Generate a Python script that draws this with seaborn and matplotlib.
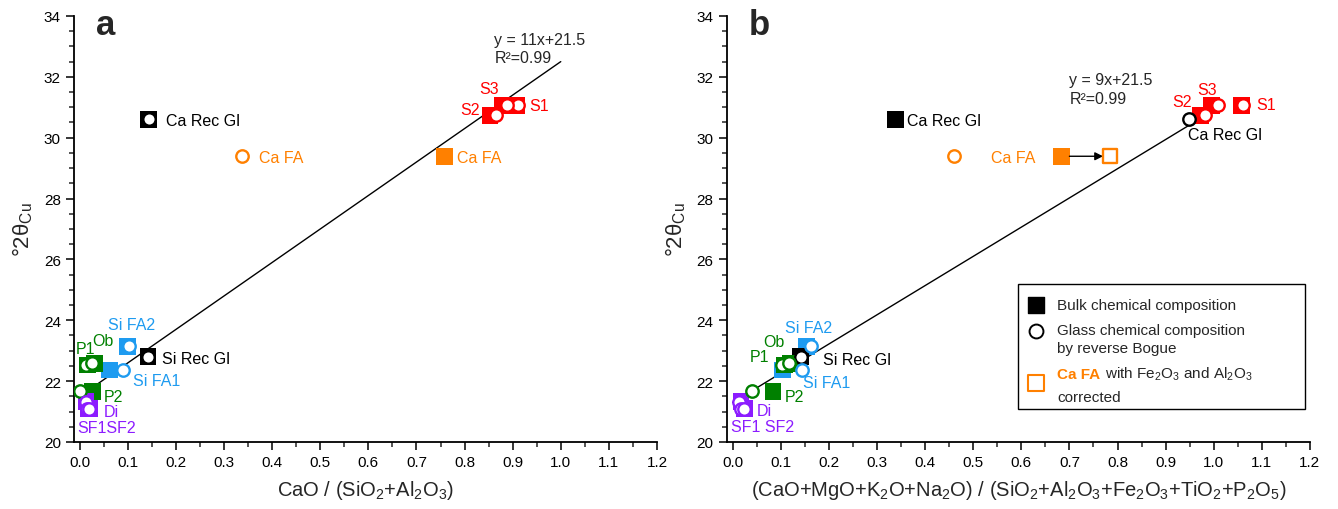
import numpy as np
import pandas as pd
import matplotlib
matplotlib.use("Agg")
import matplotlib.pyplot as plt
from matplotlib.ticker import MultipleLocator
from matplotlib.transforms import offset_copy
import seaborn as sns

# ---- data -------------------------------------------------------------
samples = ["S1", "S2", "S3", "Ca FA", "Ca Rec Gl", "Si FA2", "Si Rec Gl",
           "Si FA1", "P1", "Ob", "P2", "SF1", "SF2", "Di"]
two_theta = [31.07, 30.74, 31.07, 29.39, 30.6, 23.14, 22.8,
             22.37, 22.53, 22.58, 21.66, 21.33, 21.1, 21.08]

# panel a: CaO / (SiO2+Al2O3)
bulk_a = [0.909, 0.853, 0.878, 0.758, 0.143, 0.099, 0.142,
          0.062, 0.016, 0.030, 0.026, 0.013, 0.020, 0.018]
glass_a = [0.911, 0.866, 0.889, 0.337, 0.143, 0.102, 0.141,
           0.090, 0.012, 0.026, 0.001, 0.012, 0.016, 0.019]

# panel b: (CaO+MgO+K2O+Na2O) / (SiO2+Al2O3+Fe2O3+TiO2+P2O5)
bulk_b = [1.058, 0.972, 0.996, 0.683, 0.338, 0.154, 0.141,
          0.103, 0.107, 0.120, 0.084, 0.017, 0.024, 0.024]
glass_b = [1.061, 0.982, 1.008, 0.461, 0.949, 0.162, 0.141,
           0.145, 0.103, 0.117, 0.041, 0.013, 0.017, 0.024]
ca_fa_corrected_b = 0.785

# linear fits as drawn
fit_a = dict(slope=11.0, intercept=21.5, x0=0.0, x1=1.0)
fit_b = dict(slope=9.6, intercept=21.3, x0=0.0, x1=0.949)

RED, ORANGE, BLUE = "#FF0000", "#FF8000", "#1E9BF0"
GREEN, PURPLE, BLACK = "#008000", "#8C1CFF", "#000000"
sample_colors = {"S1": RED, "S2": RED, "S3": RED, "Ca FA": ORANGE,
                 "Ca Rec Gl": BLACK, "Si FA2": BLUE, "Si Rec Gl": BLACK,
                 "Si FA1": BLUE, "P1": GREEN, "Ob": GREEN, "P2": GREEN,
                 "SF1": PURPLE, "SF2": PURPLE, "Di": PURPLE}

# ---- label placement (layout, data coords) -------------------------------
labels_a = [("Ca Rec Gl", 0.179, 30.56, "left", BLACK),
            ("Ca FA", 0.372, 29.36, "left", ORANGE),
            ("Ca FA", 0.785, 29.36, "left", ORANGE),
            ("S3", 0.852, 31.61, "center", RED),
            ("S2", 0.832, 30.94, "right", RED),
            ("S1", 0.934, 31.05, "left", RED),
            ("Si FA2", 0.108, 23.85, "center", BLUE),
            ("Si Rec Gl", 0.172, 22.73, "left", BLACK),
            ("Si FA1", 0.110, 22.03, "left", BLUE),
            ("P1", -0.008, 23.06, "left", GREEN),
            ("Ob", 0.048, 23.33, "center", GREEN),
            ("P2", 0.050, 21.48, "left", GREEN),
            ("Di", 0.050, 21.00, "left", PURPLE),
            ("SF1SF2", -0.006, 20.49, "left", PURPLE)]
labels_b = [("Ca Rec Gl", 0.363, 30.56, "left", BLACK),
            ("Ca Rec Gl", 0.947, 30.10, "left", BLACK),
            ("Ca FA", 0.629, 29.36, "right", ORANGE),
            ("S3", 0.986, 31.58, "center", RED),
            ("S2", 0.955, 31.18, "right", RED),
            ("S1", 1.088, 31.08, "left", RED),
            ("Si FA2", 0.158, 23.75, "center", BLUE),
            ("Si Rec Gl", 0.187, 22.70, "left", BLACK),
            ("Si FA1", 0.147, 21.96, "left", BLUE),
            ("P1", 0.035, 22.82, "left", GREEN),
            ("Ob", 0.085, 23.31, "center", GREEN),
            ("P2", 0.108, 21.48, "left", GREEN),
            ("Di", 0.050, 21.04, "left", PURPLE),
            ("SF1 SF2", -0.004, 20.51, "left", PURPLE)]

sns.set_style("ticks")
plt.rcParams["font.family"] = ["Liberation Sans", "DejaVu Sans"]
plt.rcParams["mathtext.default"] = "regular"

SQ_SIZE, CI_SIZE = 145, 80


def draw_panel(ax, bulk, glass, fit, labels, letter, xlabel):
    df = pd.DataFrame({"sample": samples, "y": two_theta,
                       "bulk": bulk, "glass": glass})
    sns.scatterplot(data=df, x="bulk", y="y", hue="sample",
                    palette=sample_colors, marker="s", s=SQ_SIZE,
                    linewidth=0, legend=False, ax=ax, zorder=3)
    for _, r in df.iterrows():
        sns.scatterplot(x=[r["glass"]], y=[r["y"]], marker="o", s=CI_SIZE,
                        color="white", edgecolor=sample_colors[r["sample"]],
                        linewidth=1.7, legend=False, ax=ax, zorder=4)
    xs = np.array([fit["x0"], fit["x1"]])
    sns.lineplot(x=xs, y=fit["slope"] * xs + fit["intercept"], color="black",
                 linewidth=1.0, ax=ax, zorder=2)
    for txt, x, y, ha, c in labels:
        ax.text(x, y, txt, ha=ha, va="center", color=c, fontsize=11.5, zorder=5)

    ax.set_xlim(-0.012, 1.2)
    ax.set_ylim(20, 34)
    ax.xaxis.set_major_locator(MultipleLocator(0.1))
    ax.xaxis.set_minor_locator(MultipleLocator(0.05))
    ax.yaxis.set_major_locator(MultipleLocator(2))
    ax.yaxis.set_minor_locator(MultipleLocator(0.5))
    ax.xaxis.set_major_formatter(plt.FuncFormatter(lambda v, p: f"{v:.1f}"))
    ax.tick_params(which="major", direction="out", length=6, width=1.1,
                   labelsize=11, colors="black")
    ax.tick_params(which="minor", direction="out", length=3.5, width=1.1)
    for s in ("left", "bottom"):
        ax.spines[s].set_linewidth(1.3)
        ax.spines[s].set_color("black")
    sns.despine(ax=ax)
    ax.set_xlabel(xlabel, fontsize=14.5, labelpad=6)
    ax.set_ylabel("°2θ$_{Cu}$", fontsize=16, labelpad=6)
    ax.text(0.055, 0.981, letter, transform=ax.transAxes, ha="center",
            va="center", fontsize=25, fontweight="bold")


fig = plt.figure(figsize=(13.38, 5.10), dpi=100)
ax_a = fig.add_axes([0.0553, 0.1314, 0.4357, 0.8353])
ax_b = fig.add_axes([0.5433, 0.1314, 0.4357, 0.8353])

draw_panel(ax_a, bulk_a, glass_a, fit_a, labels_a, "a",
           "CaO / (SiO$_2$+Al$_2$O$_3$)")
draw_panel(ax_b, bulk_b, glass_b, fit_b, labels_b, "b",
           "(CaO+MgO+K$_2$O+Na$_2$O) / (SiO$_2$+Al$_2$O$_3$+Fe$_2$O$_3$+TiO$_2$+P$_2$O$_5$)")

ax_a.text(0.862, 33.22, "y = 11x+21.5", fontsize=11.5, va="center")
ax_a.text(0.862, 32.64, "R²=0.99", fontsize=11.5, va="center")
ax_b.text(0.700, 31.90, "y = 9x+21.5", fontsize=11.5, va="center")
ax_b.text(0.700, 31.30, "R²=0.99", fontsize=11.5, va="center")

# corrected Ca FA point in panel b
ca_y = two_theta[samples.index("Ca FA")]
ax_b.scatter([ca_fa_corrected_b], [ca_y], marker="s", s=SQ_SIZE * 0.8,
             facecolor="white", edgecolor=ORANGE, linewidth=1.7, zorder=4)
ax_b.annotate("", xy=(ca_fa_corrected_b - 0.015, ca_y),
              xytext=(bulk_b[samples.index("Ca FA")] + 0.017, ca_y),
              arrowprops=dict(arrowstyle="-|>", color="black", lw=1.0,
                              mutation_scale=12, shrinkA=0, shrinkB=0))

# legend box (panel b)
ax_b.add_patch(plt.Rectangle((0.499, 0.077), 0.492, 0.294,
                             transform=ax_b.transAxes, facecolor="white",
                             edgecolor="black", linewidth=1.0, zorder=6))
ax_b.scatter([0.531], [0.322], marker="s", s=120, color="black",
             transform=ax_b.transAxes, zorder=7)
ax_b.scatter([0.531], [0.261], marker="o", s=100, facecolor="white",
             edgecolor="black", linewidth=1.4, transform=ax_b.transAxes,
             zorder=7)
ax_b.scatter([0.531], [0.138], marker="s", s=120, facecolor="white",
             edgecolor=ORANGE, linewidth=1.5, transform=ax_b.transAxes,
             zorder=7)
ax_b.text(0.567, 0.322, "Bulk chemical composition", transform=ax_b.transAxes,
          fontsize=11, va="center", zorder=7)
ax_b.text(0.567, 0.242, "Glass chemical composition\nby reverse Bogue",
          transform=ax_b.transAxes, fontsize=11, va="center",
          linespacing=1.3, zorder=7)
t1 = ax_b.text(0.567, 0.150, "Ca FA", transform=ax_b.transAxes, fontsize=11,
               va="baseline", color=ORANGE, fontweight="bold", zorder=7)
fig.canvas.draw()
w_pt = t1.get_window_extent().width * 72 / fig.dpi
ax_b.text(0.567, 0.150, " with Fe$_2$O$_3$ and Al$_2$O$_3$", fontsize=11,
          va="baseline", zorder=7,
          transform=offset_copy(ax_b.transAxes, fig=fig, x=w_pt, y=0,
                                units="points"))
ax_b.text(0.567, 0.097, "corrected", transform=ax_b.transAxes, fontsize=11,
          va="baseline", zorder=7)

fig.savefig("out.png", dpi=100)
